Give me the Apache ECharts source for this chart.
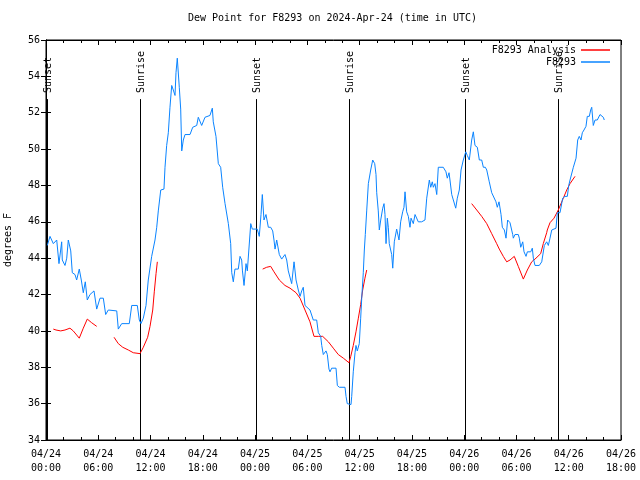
<!DOCTYPE html>
<html><head><meta charset="utf-8">
<script src="https://cdn.jsdelivr.net/npm/echarts@6/dist/echarts.min.js"></script>
<style>html,body{margin:0;padding:0;background:#fff}#c{width:640px;height:480px}</style>
</head><body><div id="c"></div>
<script>
// hours since 2024-04-24 00:00 UTC
const blueHours = [0.15,0.46,0.84,1.23,1.49,1.80,1.87,2.18,2.38,2.56,2.84,3.02,3.33,3.52,3.82,4.05,4.28,4.51,4.74,5.05,5.51,5.82,6.20,6.58,6.85,7.15,8.12,8.30,8.69,9.56,9.84,10.48,10.71,10.90,11.17,11.48,11.74,12.13,12.51,12.71,12.89,13.17,13.54,13.66,13.85,14.04,14.23,14.43,14.61,14.81,14.92,15.07,15.30,15.46,15.58,15.76,15.96,16.53,16.84,17.30,17.48,17.87,18.25,18.82,19.09,19.20,19.51,19.78,20.05,20.28,20.55,20.93,21.20,21.32,21.50,21.69,22.07,22.27,22.46,22.55,22.73,22.96,23.11,23.30,23.50,23.68,23.99,24.25,24.48,24.68,24.83,25.02,25.25,25.52,25.79,26.02,26.17,26.29,26.48,26.78,27.05,27.43,27.63,27.81,28.01,28.20,28.47,28.70,28.96,29.16,29.35,29.53,29.73,29.92,30.30,30.68,31.07,31.26,31.53,31.65,31.83,32.14,32.29,32.48,32.60,32.79,33.29,33.44,33.67,34.32,34.44,34.58,34.70,35.01,35.09,35.27,35.47,35.58,35.73,35.96,36.12,36.24,36.42,36.54,36.65,36.81,37.00,37.27,37.50,37.73,37.88,37.96,38.14,38.26,38.42,38.65,38.80,38.91,39.03,39.18,39.29,39.40,39.68,39.80,39.98,40.25,40.52,40.71,40.94,41.09,41.21,41.40,41.59,41.78,41.90,42.16,42.36,42.55,42.73,43.12,43.50,43.70,44.00,44.16,44.34,44.46,44.65,44.85,45.03,45.60,45.91,46.06,46.26,46.37,46.57,46.75,47.03,47.21,47.44,47.64,47.90,48.18,48.36,48.59,48.86,49.05,49.24,49.51,49.74,50.01,50.20,50.43,50.59,50.88,51.16,51.34,51.65,51.80,52.00,52.23,52.38,52.61,52.80,52.99,53.26,53.57,53.64,53.83,54.21,54.33,54.49,54.72,54.87,55.10,55.25,55.64,55.82,55.94,56.13,56.62,56.90,57.20,57.47,57.66,57.85,58.05,58.23,58.54,58.69,59.00,59.31,59.57,59.84,60.00,60.15,60.34,60.53,60.72,60.84,61.03,61.21,61.41,61.56,61.75,61.98,62.13,62.36,62.52,62.64,62.82,63.02,63.28,63.59,63.79,63.97,64.08];
const blueDew = [44.7,45.2,44.8,45.0,43.7,44.9,43.9,43.6,44.0,45.0,44.4,43.2,43.1,42.8,43.4,42.8,42.1,42.7,41.7,42.0,42.2,41.2,41.8,41.8,40.9,41.15,41.1,40.1,40.4,40.4,41.4,41.4,40.6,40.4,40.7,41.4,42.8,44.1,45.0,45.7,46.6,47.75,47.8,49.0,50.2,50.9,52.3,53.5,53.25,52.95,54.2,55.0,53.4,52.2,49.9,50.5,50.8,50.8,51.2,51.3,51.75,51.3,51.75,51.85,52.25,51.5,50.7,49.2,49.0,47.9,47.0,45.9,44.8,43.2,42.7,43.4,43.4,44.1,43.9,43.3,42.5,43.7,43.3,43.2,45.9,45.6,45.6,45.6,45.2,46.4,47.5,46.1,46.4,45.7,45.7,45.5,45.0,44.5,45.0,44.2,43.95,44.2,43.9,43.3,43.2,42.6,43.8,42.8,42.25,41.9,42.2,42.4,41.4,41.3,41.15,40.6,40.6,39.9,39.7,39.2,38.7,38.9,38.7,37.9,37.75,37.95,37.95,37.0,36.9,36.9,36.4,36.0,35.9,35.95,36.4,37.75,38.8,39.2,38.9,39.3,40.7,41.8,43.2,44.45,45.3,46.6,48.1,48.85,49.4,49.2,48.6,47.6,46.6,45.55,46.1,46.75,47.0,46.4,44.8,46.2,45.7,44.8,44.2,43.45,44.9,45.6,45.0,46.0,46.55,46.8,47.65,46.55,46.3,45.7,46.2,45.9,46.4,46.3,46.0,46.0,46.1,47.3,48.3,47.9,48.2,47.9,48.1,47.5,49.0,49.0,48.75,48.4,48.7,48.3,47.5,47.4,46.75,47.3,47.75,48.85,49.4,49.85,49.65,49.4,50.5,50.95,50.2,50.1,49.4,49.4,49.0,49.0,48.85,48.2,47.6,47.55,47.1,46.8,47.1,46.4,45.7,45.55,45.1,46.1,45.95,45.3,45.1,45.3,45.3,45.1,44.6,44.9,44.35,44.1,44.35,44.35,44.55,44.0,43.6,43.6,43.8,44.7,44.9,44.7,45.1,45.55,45.65,45.65,46.5,46.5,47.3,47.4,47.4,48.0,48.3,48.3,49.0,49.05,49.5,50.5,50.7,50.5,50.9,51.05,51.25,51.8,51.8,52.15,52.3,51.3,51.6,51.6,51.9,51.85,51.75,51.6];
// analysis series; null marks a gap
const redHours = [0.84,1.15,1.69,2.18,2.75,3.13,3.82,4.28,4.74,5.24,5.82,6.8,7.81,8.30,8.81,9.45,10.02,10.79,11.17,11.67,11.94,12.25,12.43,12.63,12.78,18,24.87,25.33,25.79,26.17,26.78,27.43,28.01,28.70,29.16,29.73,30.30,30.76,31.26,31.76,32.41,32.98,33.55,34.13,34.78,34.98,35.27,35.58,35.85,36.12,36.35,36.61,36.81,42,48.86,49.44,50.01,50.59,51.16,51.73,52.03,52.49,52.88,53.26,53.75,54.21,54.79,55.25,55.75,56.24,56.78,57.08,57.47,57.54,57.85,58.31,58.80,59.38,59.77,60.15,60.72];
const redDew = [40.1,40.05,40.0,40.05,40.15,40.0,39.6,40.15,40.65,40.45,40.25,null,39.65,39.3,39.1,38.95,38.8,38.75,39.1,39.65,40.25,41.15,42.15,43.15,43.8,null,43.4,43.5,43.55,43.25,42.8,42.5,42.35,42.1,41.8,41.15,40.5,39.7,39.7,39.7,39.4,39.05,38.7,38.5,38.25,38.6,39.2,39.95,40.7,41.45,42.25,42.9,43.35,null,47.0,46.65,46.3,45.9,45.35,44.8,44.5,44.1,43.8,43.9,44.1,43.55,42.85,43.35,43.8,44.0,44.25,44.8,45.4,45.55,45.95,46.2,46.65,47.3,47.75,48.1,48.5];
const sunHours = [0.11,10.79,24.1,34.78,48.09,58.77];
const sunLabels = ['Sunset','Sunrise','Sunset','Sunrise','Sunset','Sunrise'];
const yTicks = [34,36,38,40,42,44,46,48,50,52,54,56];

const FONT = 'DejaVu Sans Mono';
const blueData = blueHours.map((h,i)=>[h, blueDew[i]]);
const redData = redHours.map((h,i)=>[h, redDew[i]]);
const sunData = sunHours.map((h,i)=>[h, sunLabels[i]]);
const pad = n => (n<10?'0':'')+n;
const xFmt = v => { const d = 24 + Math.floor(v/24); const hh = Math.round(v % 24); return '04/'+pad(d)+'\n'+pad(hh)+':00'; };

const chart = echarts.init(document.getElementById('c'), null, {renderer:'canvas'});
const axisCommon = {
  axisLine:{show:true, lineStyle:{color:'#000', width:1}},
  axisTick:{show:true, inside:true, length:5, lineStyle:{color:'#000'}},
  splitLine:{show:false}
};
chart.setOption({
  animation:false,
  backgroundColor:'#fff',
  textStyle:{fontFamily:FONT},
  title:{text:'Dew Point for F8293 on 2024-Apr-24 (time in UTC)', left:188, top:13, padding:0,
    textStyle:{fontFamily:FONT, fontSize:10, fontWeight:'normal', color:'#000'}},
  legend:{data:['F8293 Analysis','F8293'], orient:'vertical', right:30, top:45, align:'right', padding:0,
    icon:'rect', itemWidth:29, itemHeight:1.5, itemGap:2,
    textStyle:{fontFamily:FONT, fontSize:10, color:'#000'}},
  grid:{left:46, right:19, top:40, bottom:40, show:true, borderColor:'#000', borderWidth:1,
    containLabel:false, outerBoundsMode:'none'},
  xAxis:[
    Object.assign({type:'value', min:0, max:66, interval:6, position:'bottom',
      minorTick:{show:true, splitNumber:3, length:3, lineStyle:{color:'#000'}},
      axisLabel:{formatter:xFmt, color:'#000', fontFamily:FONT, fontSize:10, lineHeight:14, margin:7}}, axisCommon),
    Object.assign({type:'value', min:0, max:66, interval:6, position:'top',
      minorTick:{show:true, splitNumber:3, length:3, lineStyle:{color:'#000'}},
      axisLabel:{show:false}}, axisCommon)
  ],
  yAxis:[
    Object.assign({type:'value', min:yTicks[0], max:yTicks[yTicks.length-1], interval:2, position:'left',
      name:'degrees F', nameLocation:'middle', nameGap:33, nameRotate:90,
      nameTextStyle:{fontFamily:FONT, fontSize:10, color:'#000'},
      axisLabel:{color:'#000', fontFamily:FONT, fontSize:10, margin:6}}, axisCommon),
    Object.assign({type:'value', min:yTicks[0], max:yTicks[yTicks.length-1], interval:2, position:'right',
      axisLabel:{show:false}}, axisCommon)
  ],
  series:[
    {type:'custom', name:'sun', xAxisIndex:0, yAxisIndex:0, data:sunData, silent:true,
      renderItem:function(params, api){
        const t = api.value(0);
        const lbl = sunLabels[params.dataIndex];
        const top = api.coord([t, 52.75]);
        const bot = api.coord([t, 34]);
        return {type:'group', children:[
          {type:'line', shape:{x1:Math.round(top[0])+0.5, y1:top[1], x2:Math.round(bot[0])+0.5, y2:bot[1]},
            style:{stroke:'#000', lineWidth:1}},
          {type:'text', x:top[0]+1, y:top[1]-6, rotation:Math.PI/2,
            style:{text:lbl, font:'10px "DejaVu Sans Mono"', fill:'#000', align:'left', verticalAlign:'middle'}}
        ]};
      }},
    {type:'line', name:'F8293 Analysis', data:redData, showSymbol:false, symbol:'none', connectNulls:false,
      lineStyle:{color:'#ff0000', width:1}, itemStyle:{color:'#ff0000'}, z:3},
    {type:'line', name:'F8293', data:blueData, showSymbol:false, symbol:'none',
      lineStyle:{color:'#0a84ff', width:1}, itemStyle:{color:'#0a84ff'}, z:4}
  ]
});
</script>
</body></html>
